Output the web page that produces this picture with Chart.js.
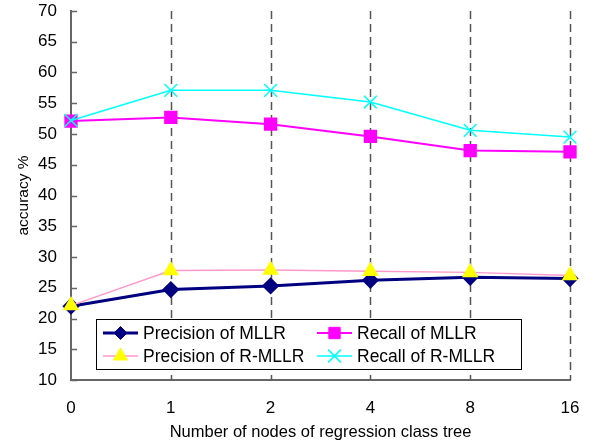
<!DOCTYPE html>
<html>
<head>
<meta charset="utf-8">
<script src="https://cdn.jsdelivr.net/npm/chart.js@4/dist/chart.umd.min.js"></script>
<style>
html,body{margin:0;padding:0;background:#fff;}
#wrap{width:595px;height:446px;position:relative;}
</style>
</head>
<body>
<div id="wrap"><canvas id="c" width="595" height="446"></canvas></div>
<script>
const categories = ['0', '1', '2', '4', '8', '16'];
const precisionMLLR  = [22.0, 24.7, 25.3, 26.2, 26.7, 26.5];
const recallMLLR     = [52.1, 52.7, 51.6, 49.6, 47.3, 47.1];
const precisionRMLLR = [22.1, 27.8, 27.9, 27.7, 27.5, 27.0];
const recallRMLLR    = [52.2, 57.1, 57.1, 55.2, 50.6, 49.5];
const seriesNames = ['Precision of MLLR', 'Recall of MLLR', 'Precision of R-MLLR', 'Recall of R-MLLR'];
const yMin = 10, yMax = 70, yStep = 5;

const FONT = '"Liberation Sans", Arial, sans-serif';

function drawMarker(ctx, style, x, y, r, fill, stroke) {
  ctx.save();
  ctx.fillStyle = fill; ctx.strokeStyle = stroke; ctx.lineWidth = 1;
  ctx.beginPath();
  if (style === 'rectRot') {
    ctx.moveTo(x, y - r); ctx.lineTo(x + r, y); ctx.lineTo(x, y + r); ctx.lineTo(x - r, y); ctx.closePath();
    ctx.fill(); ctx.stroke();
  } else if (style === 'rect') {
    const s = r * Math.SQRT1_2;
    ctx.rect(x - s, y - s, 2 * s, 2 * s); ctx.fill(); ctx.stroke();
  } else if (style === 'triangle') {
    ctx.moveTo(x, y - r); ctx.lineTo(x + r * 0.866, y + r * 0.5); ctx.lineTo(x - r * 0.866, y + r * 0.5); ctx.closePath();
    ctx.fill(); ctx.stroke();
  } else if (style === 'crossRot') {
    const d = r * Math.SQRT1_2;
    ctx.lineWidth = 1.5;
    ctx.moveTo(x - d, y - d); ctx.lineTo(x + d, y + d);
    ctx.moveTo(x + d, y - d); ctx.lineTo(x - d, y + d);
    ctx.stroke();
  }
  ctx.restore();
}

const decorPlugin = {
  id: 'decor',
  beforeDatasetsDraw(chart) {
    const ctx = chart.ctx, xs = chart.scales.x, ys = chart.scales.y, ca = chart.chartArea;
    ctx.save();
    ctx.strokeStyle = '#555';
    ctx.lineWidth = 1.5;
    ctx.setLineDash([8, 5]);
    for (let i = 1; i < categories.length; i++) {
      const px = Math.round(xs.getPixelForTick(i)) + 0.5;
      ctx.beginPath(); ctx.moveTo(px, ca.top); ctx.lineTo(px, ca.bottom); ctx.stroke();
    }
    ctx.setLineDash([]);
    ctx.strokeStyle = '#666';
    ctx.lineWidth = 1.5;
    ys.ticks.forEach(t => {
      const py = Math.round(ys.getPixelForValue(t.value)) + 0.5;
      ctx.beginPath(); ctx.moveTo(ca.left, py); ctx.lineTo(ca.left + 6, py); ctx.stroke();
    });
    ctx.restore();
  },
  afterDraw(chart) {
    const ctx = chart.ctx;
    const bx = 96.5, by = 319.5, bw = 425, bh = 50;
    ctx.save();
    ctx.fillStyle = '#fff';
    ctx.fillRect(bx, by, bw, bh);
    ctx.strokeStyle = '#000'; ctx.lineWidth = 1;
    ctx.strokeRect(bx, by, bw, bh);
    const cols = [103, 317];
    const rows = [333, 356];
    ctx.font = '17.5px ' + FONT;
    ctx.textBaseline = 'middle';
    ctx.textAlign = 'left';
    chart.data.datasets.forEach((ds, i) => {
      const col = i % 2, row = Math.floor(i / 2);
      const x0 = cols[col], y = rows[row];
      ctx.strokeStyle = ds.borderColor; ctx.lineWidth = ds.borderWidth;
      ctx.beginPath(); ctx.moveTo(x0, y); ctx.lineTo(x0 + 35, y); ctx.stroke();
      drawMarker(ctx, ds.pointStyle, x0 + 17.5, y, ds.pointRadius, ds.pointBackgroundColor, ds.pointBorderColor);
      ctx.fillStyle = '#000';
      ctx.fillText(seriesNames[i], x0 + 40, y + 1);
    });
    ctx.restore();
  }
};

new Chart(document.getElementById('c'), {
  type: 'line',
  data: {
    labels: categories,
    datasets: [
      { label: seriesNames[0], data: precisionMLLR, borderColor: '#000080', borderWidth: 3,
        pointStyle: 'rectRot', pointRadius: 6.5, pointBackgroundColor: '#000080', pointBorderColor: '#000080', order: 4 },
      { label: seriesNames[1], data: recallMLLR, borderColor: '#FF00FF', borderWidth: 2,
        pointStyle: 'rect', pointRadius: 8, pointBackgroundColor: '#FF00FF', pointBorderColor: '#FF00FF', order: 3 },
      { label: seriesNames[2], data: precisionRMLLR, borderColor: '#FF99CC', borderWidth: 1.5,
        pointStyle: 'triangle', pointRadius: 8, pointBackgroundColor: '#FFFF00', pointBorderColor: '#FFFF00', order: 2 },
      { label: seriesNames[3], data: recallRMLLR, borderColor: '#00FFFF', borderWidth: 1.5,
        pointStyle: 'crossRot', pointRadius: 9, pointBackgroundColor: '#00FFFF', pointBorderColor: '#00FFFF', pointBorderWidth: 1.5, order: 1 }
    ]
  },
  options: {
    responsive: false,
    animation: false,
    devicePixelRatio: 1,
    layout: { padding: { left: 0, right: 25, top: 11, bottom: 0 } },
    elements: { line: { tension: 0, fill: false } },
    plugins: { legend: { display: false }, tooltip: { enabled: false } },
    scales: {
      x: {
        type: 'category',
        offset: false,
        grid: { display: false, drawTicks: false },
        border: { display: true, color: '#666', width: 2 },
        ticks: { color: '#000', font: { family: FONT, size: 17 }, padding: 18, maxRotation: 0, autoSkip: false },
        title: { display: true, text: 'Number of nodes of regression class tree', color: '#000',
                 font: { family: FONT, size: 16.5 }, padding: { top: 0, bottom: 4 } },
        afterFit(s) { s.height = 66; s.paddingLeft = 0; s.paddingRight = 0; }
      },
      y: {
        min: yMin, max: yMax,
        grid: { display: false, drawTicks: false },
        border: { display: true, color: '#666', width: 2 },
        ticks: { stepSize: yStep, color: '#000', font: { family: FONT, size: 17 }, padding: 14 },
        title: { display: true, text: 'accuracy %', color: '#000',
                 font: { family: FONT, size: 15.5 }, padding: { top: 14, bottom: 0 } },
        afterFit(s) { s.width = 71; s.paddingTop = 0; s.paddingBottom = 0; }
      }
    }
  },
  plugins: [decorPlugin]
});
</script>
</body>
</html>
